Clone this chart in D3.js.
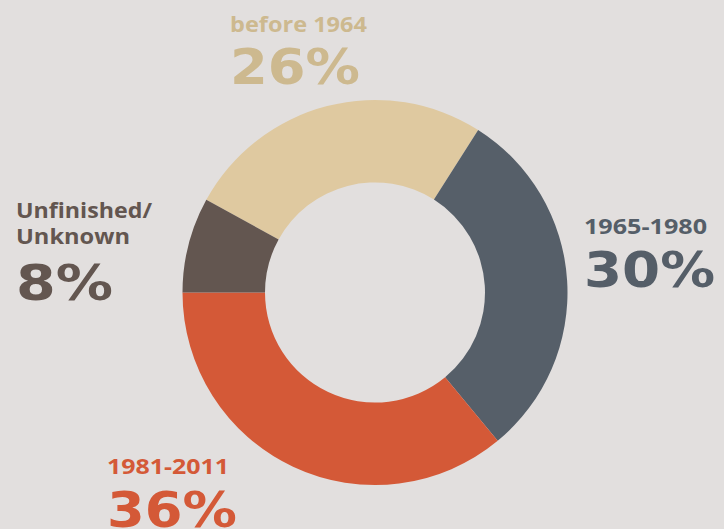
<!DOCTYPE html>
<html>
<head>
<meta charset="utf-8">
<script src="https://cdn.jsdelivr.net/npm/d3@7"></script>
<style>
  html, body { margin: 0; padding: 0; background: #e2dfde; }
  svg { display: block; }
</style>
</head>
<body>
<svg id="chart" width="724" height="529"></svg>
<script>
// data
const categories = ["before 1964", "1965-1980", "1981-2011", "Unfinished/Unknown"];
const shares = [26, 30, 36, 8];
const sliceColors = ["#dfc9a0", "#565f69", "#d45937", "#635650"];
const textColors = ["#cdb98f", "#555e68", "#d45937", "#635650"];

// label layout (x, baseline of first line, baseline of number, widths)
const labelLayout = [
  {x: 230, y: 32, lines: ["before 1964"], ny: 83.5, lw: 137, nw: 130},
  {x: 584, y: 234, lines: ["1965-1980"], ny: 287, lw: 123, nw: 131},
  {x: 107, y: 474, lines: ["1981-2011"], ny: 527, lw: 122, nw: 130},
  {x: 16, y: 218, lines: ["Unfinished/", "Unknown"], ny: 300, lw: [136, 114], nw: 97}
];

const svg = d3.select("#chart");
const cx = 375, cy = 292.5;
const outerR = 192.5, innerR = 110;

//the first slice (before 1964) starts just above the left horizontal
const start = -(360 - 298.8) * Math.PI / 180;
const pie = d3.pie()
  .sort(null)
  .value(d => d)
  .startAngle(start)
  .endAngle(start + 2 * Math.PI);

const arc = d3.arc().innerRadius(innerR).outerRadius(outerR);

svg.append("g")
  .attr("transform", `translate(${cx},${cy})`)
  .selectAll("path")
  .data(pie(shares))
  .join("path")
    .attr("d", arc)
    .attr("fill", (d, i) => sliceColors[i]);

//labels
const labels = svg.append("g");
labelLayout.forEach((l, i) => {
  const g = labels.append("g").attr("fill", textColors[i]);
  l.lines.forEach((line, j) => {
    const w = Array.isArray(l.lw) ? l.lw[j] : l.lw;
    g.append("text")
      .attr("x", l.x)
      .attr("y", l.y + j * 25.5)
      .style("font", "bold 22px 'Open Sans', sans-serif")
      .attr("textLength", w)
      .attr("lengthAdjust", "spacingAndGlyphs")
      .text(line);
  });
  g.append("text")
    .attr("x", l.x)
    .attr("y", l.ny)
    .style("font", "bold 50px 'DejaVu Sans', sans-serif")
    .attr("textLength", l.nw)
    .attr("lengthAdjust", "spacingAndGlyphs")
    .text(shares[i] + "%");
});
</script>
</body>
</html>
